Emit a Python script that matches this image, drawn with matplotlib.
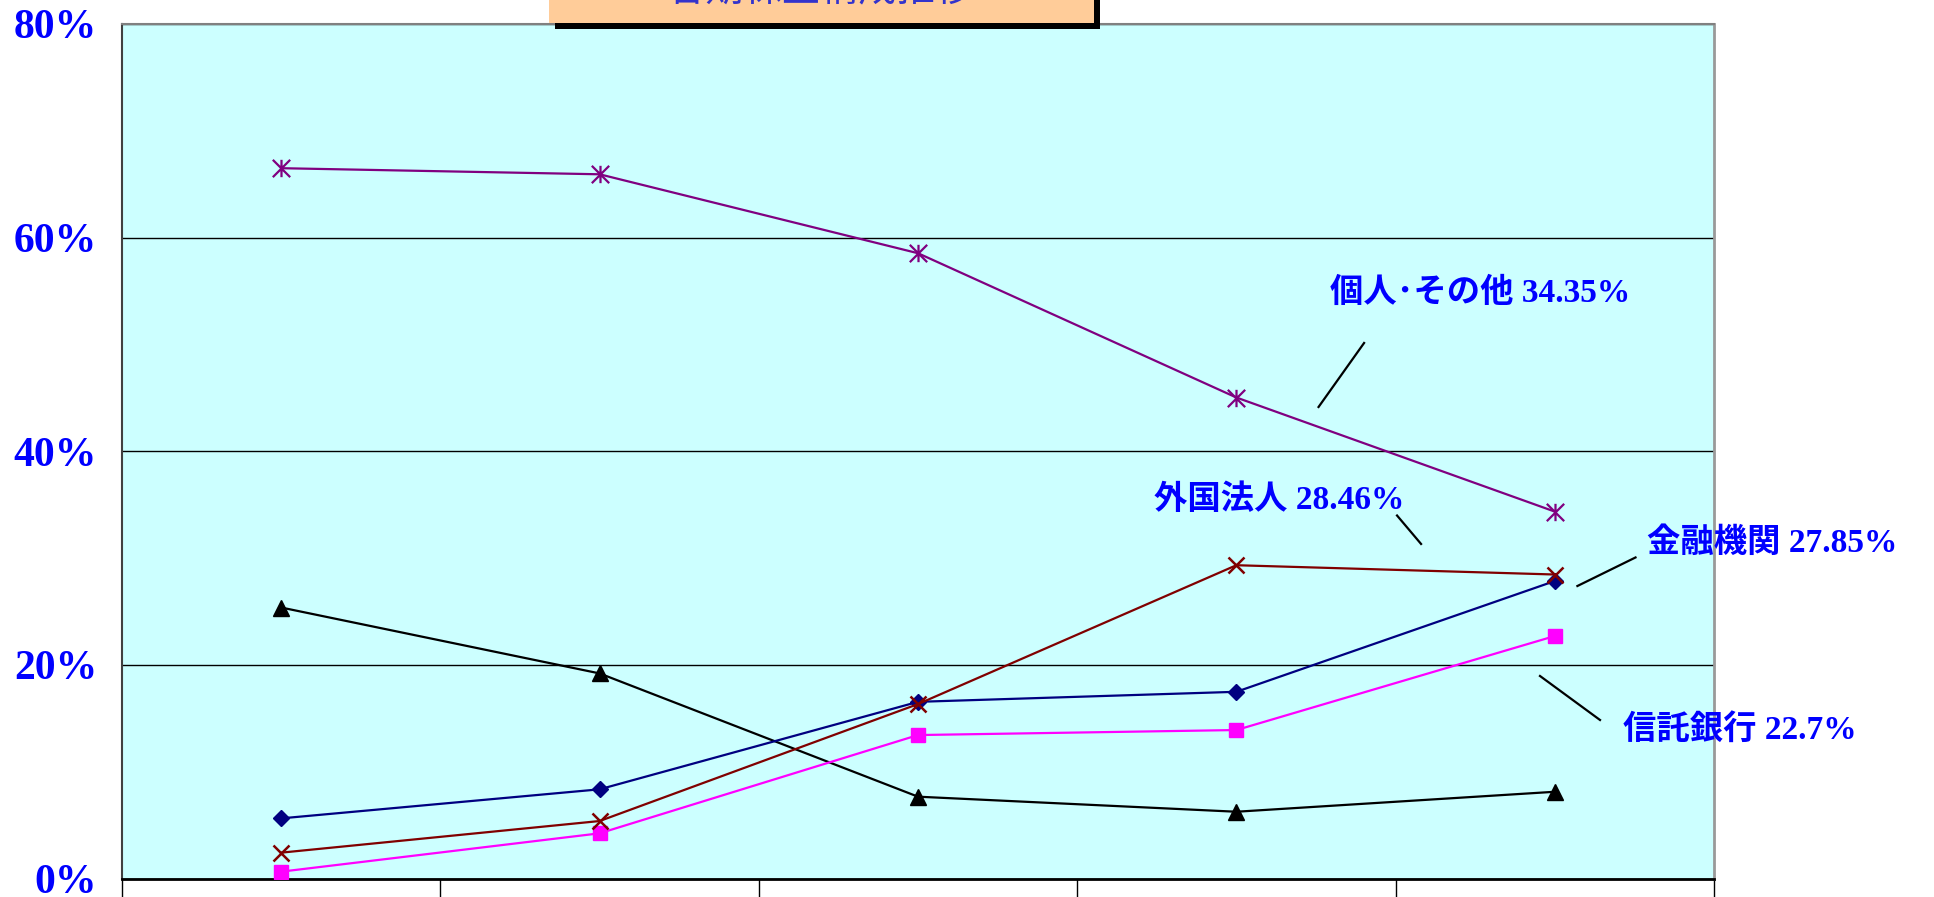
import numpy as np
import matplotlib
matplotlib.use("Agg")
import matplotlib.pyplot as plt
from matplotlib.patches import Rectangle
from matplotlib.path import Path

# Shareholder composition (%) over five periods
individuals = [66.5, 65.93, 58.54, 45.03, 34.35]      # 個人･その他
foreign = [2.42, 5.38, 16.33, 29.33, 28.46]           # 外国法人
financial = [5.63, 8.35, 16.54, 17.48, 27.85]         # 金融機関
trust_banks = [0.64, 4.23, 13.43, 13.9, 22.7]         # 信託銀行
corporations = [25.37, 19.2, 7.66, 6.25, 8.12]       # 事業法人

title_text = "各期株主構成推移"
yticks = [0, 20, 40, 60, 80]

W, H = 1934, 897
fig = plt.figure(figsize=(W / 100, H / 100), dpi=100)
fig.patch.set_facecolor("white")

left, right, top, bottom = 122, 1714, 24, 878.5
ax = fig.add_axes([left / W, 1 - bottom / H, (right - left) / W, (bottom - top) / H])
ax.set_facecolor("#CCFFFF")

n = len(individuals)
x = np.arange(n)

# asterisk marker: vertical bar plus two diagonals
ast = Path([(0, -1), (0, 1), (-1, -1), (1, 1), (-1, 1), (1, -1)],
           [Path.MOVETO, Path.LINETO, Path.MOVETO, Path.LINETO, Path.MOVETO, Path.LINETO])

ax.plot(x, corporations, color="black", lw=1.6, marker="^", ms=11.5, mfc="black", mec="black", zorder=3)
ax.plot(x, financial, color="#000080", lw=1.6, marker="D", ms=8.3, mfc="#000080", mec="#000080", zorder=3)
ax.plot(x, trust_banks, color="#FF00FF", lw=1.6, marker="s", ms=9.5, mfc="#FF00FF", mec="#FF00FF", zorder=3)
ax.plot(x, foreign, color="#800000", lw=1.6, marker="x", ms=11.5, mew=1.8, mec="#800000", zorder=4)
ax.plot(x, individuals, color="#800080", lw=1.6, marker=ast, ms=12.5, mew=1.6, mec="#800080", zorder=4)

ax.set_xlim(-0.5, n - 0.5)
ax.set_ylim(0, 80)
ax.set_yticks(yticks)
ax.set_yticklabels([f"{v}%" for v in yticks], family="Liberation Serif",
                   fontweight="bold", fontsize=30, color="#0000FF")
ax.tick_params(axis="y", length=0, pad=18)
ax.set_xticks(np.arange(n + 1) - 0.5)
ax.set_xticklabels([])
ax.tick_params(axis="x", direction="out", length=14, width=1, color="black")
ax.xaxis.get_major_ticks()[1].tick1line.set_color("#DDDDDD")
ax.yaxis.grid(True, color="black", lw=1)
ax.set_axisbelow(True)

ax.spines["left"].set_color("#404040")
ax.spines["left"].set_linewidth(1.5)
ax.spines["top"].set_color("#808080")
ax.spines["top"].set_linewidth(1.5)
ax.spines["right"].set_color("#999999")
ax.spines["right"].set_linewidth(2)
ax.spines["bottom"].set_color("black")
ax.spines["bottom"].set_linewidth(2)

# series labels with leader lines (axes-fraction positions)
label_font = dict(family=["Liberation Serif", "Noto Sans CJK JP"], fontweight="bold",
                  fontsize=24, color="#0000FF", va="center", ha="left",
                  transform=ax.transAxes)
labels = [
    ("個人･その他", individuals[-1], (0.7588, 0.6852), ((0.7516, 0.5518), (0.7802, 0.6267))),
    ("外国法人", foreign[-1], (0.6482, 0.4429), ((0.8009, 0.4248), (0.8160, 0.3915))),
    ("金融機関", financial[-1], (0.9579, 0.3926), ((0.9142, 0.3423), (0.9507, 0.3757))),
    ("信託銀行", trust_banks[-1], (0.9428, 0.1738), ((0.8907, 0.2370), (0.9284, 0.1855))),
]
for name, val, (tx, ty), (p0, p1) in labels:
    ax.text(tx, ty, f"{name} {val:g}%", zorder=6, **label_font)
    ax.plot([p0[0], p1[0]], [p0[1], p1[1]], color="black", lw=1.6,
            transform=ax.transAxes, zorder=5)

# title box with drop shadow at the top edge
bx0, bx1, bbot = 549, 1094, 23
shadow = Rectangle(((bx0 + 6) / W, 1 - (bbot + 6) / H), (bx1 - bx0) / W, 60 / H,
                   transform=fig.transFigure, facecolor="black", edgecolor="none", zorder=10)
box = Rectangle((bx0 / W, 1 - bbot / H), (bx1 - bx0) / W, 60 / H,
                transform=fig.transFigure, facecolor="#FFCC99", edgecolor="none", zorder=11)
fig.add_artist(shadow)
fig.add_artist(box)
fig.text(821 / W, 1 + 9 / H, title_text, family="Noto Sans CJK JP", fontsize=27.5,
         color="#3333CC", ha="center", va="center", zorder=12)

fig.savefig("out.png", dpi=100)
